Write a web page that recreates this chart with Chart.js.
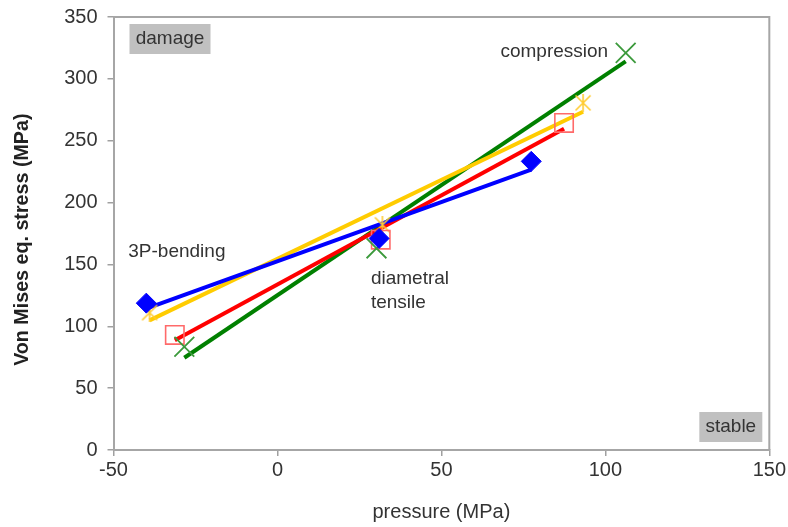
<!DOCTYPE html>
<html><head><meta charset="utf-8">
<script src="https://cdn.jsdelivr.net/npm/chart.js@4/dist/chart.umd.min.js"></script>
<style>html,body{margin:0;padding:0;background:#fff;}</style>
</head><body>
<canvas id="c" width="788" height="527"></canvas>
<script>
// Test types (points in each series, left to right)
const testTypes = ['3P-bending', 'diametral tensile', 'compression'];
// Series values: pressure (MPa) and Von Mises eq. stress (MPa)
const blueP   = [-40.0, 31.0, 77.4];
const blueS   = [118.7, 171.0, 233.3];
const yellowP = [-39.0, 32.0, 93.2];
const yellowS = [111.0, 182.0, 280.6];
const redP    = [-31.3, 31.5, 87.4];
const redS    = [93.0, 170.0, 264.4];
const greenP  = [-28.4, 30.2, 106.2];
const greenS  = [83.5, 163.0, 321.0];
// Axis ticks
const xTicks = [-50, 0, 50, 100, 150];
const yTicks = [0, 50, 100, 150, 200, 250, 300, 350];
// Annotation texts
const regionLabels = ['damage', 'stable'];
const yTitle = 'Von Mises eq. stress (MPa)';

const FONT = "'Liberation Sans', Arial, sans-serif";

function pts(xs, ys) { return xs.map((x, i) => ({ x: x, y: ys[i] })); }
function trend(xs, ys) {
  const n = xs.length;
  const mx = xs.reduce((a, b) => a + b, 0) / n;
  const my = ys.reduce((a, b) => a + b, 0) / n;
  let sxx = 0, sxy = 0;
  for (let i = 0; i < n; i++) { sxx += (xs[i] - mx) ** 2; sxy += (xs[i] - mx) * (ys[i] - my); }
  const b = sxy / sxx, a = my - b * mx;
  const x0 = Math.min(...xs), x1 = Math.max(...xs);
  return [{ x: x0, y: a + b * x0 }, { x: x1, y: a + b * x1 }];
}

// Excel-like star marker (X with vertical bar)
function starMarker(color, size) {
  const c = document.createElement('canvas');
  c.width = size; c.height = size;
  const g = c.getContext('2d');
  g.strokeStyle = color; g.lineWidth = 1.6;
  const m = 1.5, s = size;
  g.beginPath();
  g.moveTo(m, m); g.lineTo(s - m, s - m);
  g.moveTo(s - m, m); g.lineTo(m, s - m);
  g.moveTo(s / 2, 0); g.lineTo(s / 2, s);
  g.stroke();
  return c;
}

function lineDs(xs, ys, color, order) {
  return { type: 'scatter', data: trend(xs, ys), showLine: true, borderColor: color,
    borderWidth: 4, pointRadius: 0, fill: false, order: order };
}

const datasets = [
  lineDs(greenP, greenS, '#008000', 5),
  lineDs(redP, redS, '#ff0000', 4),
  lineDs(yellowP, yellowS, '#ffcc00', 3),
  lineDs(blueP, blueS, '#0000ff', 2),
  { type: 'scatter', data: pts(greenP, greenS), pointStyle: 'crossRot', pointRadius: 14,
    borderColor: '#3c9a3c', borderWidth: 1.8, backgroundColor: 'transparent', order: 1 },
  { type: 'scatter', data: pts(redP, redS), pointStyle: 'rect', pointRadius: 13,
    borderColor: '#ff6a6a', borderWidth: 1.6, backgroundColor: 'transparent', order: 1 },
  { type: 'scatter', data: pts(yellowP, yellowS), pointStyle: starMarker('#ffcc33', 18), pointRadius: 9,
    order: 1 },
  { type: 'scatter', data: pts(blueP, blueS), pointStyle: 'rectRot', pointRadius: 10,
    borderColor: '#0000ff', backgroundColor: '#0000ff', borderWidth: 1, order: 0 }
];

const annot = {
  id: 'annot',
  beforeDatasetsDraw(chart) {
    const { ctx, chartArea: a } = chart;
    ctx.save();
    ctx.strokeStyle = '#a6a6a6'; ctx.lineWidth = 2;
    ctx.beginPath();
    ctx.moveTo(a.left, a.top); ctx.lineTo(a.right, a.top); ctx.lineTo(a.right, a.bottom);
    ctx.stroke();
    ctx.restore();
  },
  afterDatasetsDraw(chart) {
    const { ctx, chartArea: a, scales } = chart;
    const xs = scales.x, ys = scales.y;
    ctx.save();
    ctx.font = '19px ' + FONT;
    ctx.textBaseline = 'middle';
    // region boxes
    ctx.fillStyle = '#c0c0c0';
    ctx.fillRect(a.left + 16, a.top + 7, 81, 30);
    ctx.fillRect(a.right - 70, a.bottom - 38, 63, 30);
    ctx.fillStyle = '#333';
    ctx.textAlign = 'center';
    ctx.fillText(regionLabels[0], a.left + 16 + 40.5, a.top + 22);
    ctx.fillText(regionLabels[1], a.right - 70 + 31.5, a.bottom - 23);
    // test labels
    ctx.textAlign = 'left';
    ctx.fillText(testTypes[2], xs.getPixelForValue(68), ys.getPixelForValue(321.5));
    ctx.fillText(testTypes[0], xs.getPixelForValue(-45.5), ys.getPixelForValue(160));
    const dt = testTypes[1].split(' ');
    ctx.fillText(dt[0], xs.getPixelForValue(28.5), ys.getPixelForValue(138.5));
    ctx.fillText(dt[1], xs.getPixelForValue(28.5), ys.getPixelForValue(119));
    // y axis title
    ctx.translate(22.5, ys.getPixelForValue(170));
    ctx.rotate(-Math.PI / 2);
    ctx.textAlign = 'center';
    ctx.fillStyle = '#222';
    ctx.font = 'bold 19.7px ' + FONT;
    ctx.fillText(yTitle, 0, 0);
    ctx.restore();
  }
};

new Chart(document.getElementById('c'), {
  type: 'scatter',
  data: { datasets: datasets },
  plugins: [annot],
  options: {
    responsive: false, animation: false,
    layout: { padding: { left: 0, right: 18.5, top: 17, bottom: 0 } },
    plugins: { legend: { display: false }, tooltip: { enabled: false } },
    scales: {
      x: {
        type: 'linear', min: -50, max: 150,
        afterBuildTicks: s => { s.ticks = xTicks.map(v => ({ value: v })); },
        afterFit: s => { s.height = 77; },
        grid: { drawOnChartArea: false, tickLength: 6, color: '#a0a0a0', lineWidth: 1.5 },
        border: { color: '#a6a6a6', width: 2 },
        ticks: { color: '#333', font: { family: FONT, size: 20 }, padding: 2, maxRotation: 0 },
        title: { display: true, text: 'pressure (MPa)', color: '#333', font: { family: FONT, size: 20 },
          padding: { top: 4, bottom: 3 } }
      },
      y: {
        type: 'linear', min: 0, max: 350,
        afterBuildTicks: s => { s.ticks = yTicks.map(v => ({ value: v })); },
        afterFit: s => { s.width = 113.5; s.paddingTop = 0; },
        grid: { drawOnChartArea: false, tickLength: 6, color: '#a0a0a0', lineWidth: 1.5 },
        border: { color: '#a6a6a6', width: 2 },
        ticks: { color: '#333', font: { family: FONT, size: 20 }, padding: 10 },
        title: { display: false }
      }
    }
  }
});
</script>
</body></html>
